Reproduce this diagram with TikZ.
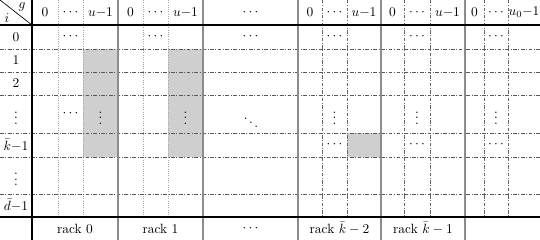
\documentclass[tikz,border=0pt]{standalone}
\begin{document}
\begin{tikzpicture}[x=0.746pt,y=-0.746pt,
  cellshade/.style={fill=black!19,draw=none},
  subdot/.style={gray!70,line width=0.45pt,dash pattern=on 0.6pt off 1.1pt},
  subdash/.style={black!60,line width=0.45pt,dash pattern=on 2.6pt off 1.2pt on 0.6pt off 1.2pt},
  rowline/.style={black!65,line width=0.5pt,dash pattern=on 2.8pt off 1.2pt on 0.6pt off 1.2pt},
  rackline/.style={black!45,line width=0.85pt},
  heavy/.style={black,line width=1.1pt},
  lbl/.style={inner sep=0pt,anchor=center}]
\useasboundingbox (0,0) rectangle (540,240);
% shading
\fill[cellshade] (83,49) rectangle (118,157);
\fill[cellshade] (168,49) rectangle (203,157);
\fill[cellshade] (347,133) rectangle (381,157);
% sub columns
\foreach \x in {58,83,143,168} \draw[subdot] (\x,0) -- (\x,217);
\foreach \x in {322,347,404,430,484,508} \draw[subdash] (\x,0) -- (\x,217);
% row lines
\foreach \y in {49,72,95,133,157,194} \draw[rowline] (0,\y) -- (540,\y);
% rack lines
\foreach \x in {118,203,298,381,465} \draw[rackline] (\x,0) -- (\x,240);
% heavy lines
\draw[heavy] (0,25) -- (540,25);
\draw[heavy] (0,217) -- (540,217);
\draw[heavy] (32,0) -- (32,240);
\draw[line width=0.5pt] (0,0) -- (32,25);
% corner
\node[lbl] (cg) at (22,7) {$g$};
\node[lbl] (ci) at (7,18) {$i$};
% header
\node[lbl] (h0a) at (45,12.5) {$0$};
\node[lbl] (h0b) at (70.5,12.5) {$\cdots$};
\node[lbl] (h0c) at (100.5,12.5) {$u{-}1$};
\node[lbl] (h1a) at (130.5,12.5) {$0$};
\node[lbl] (h1b) at (155.5,12.5) {$\cdots$};
\node[lbl] (h1c) at (185.5,12.5) {$u{-}1$};
\node[lbl] (hm) at (250.5,12.5) {$\cdots$};
\node[lbl] (h2a) at (310,12.5) {$0$};
\node[lbl] (h2b) at (334.5,12.5) {$\cdots$};
\node[lbl] (h2c) at (364,12.5) {$u{-}1$};
\node[lbl] (h3a) at (392.5,12.5) {$0$};
\node[lbl] (h3b) at (417,12.5) {$\cdots$};
\node[lbl] (h3c) at (447.5,12.5) {$u{-}1$};
\node[lbl] (h4a) at (474.5,12.5) {$0$};
\node[lbl] (h4b) at (496,12.5) {$\cdots$};
\node[lbl] (h4c) at (524,12.5) {$u_0{-}1$};
% row labels
\node[lbl] (r0) at (16,37) {$0$};
\node[lbl] (r1) at (16,60.5) {$1$};
\node[lbl] (r2) at (16,83.5) {$2$};
\node[lbl] (r3) at (16,114) {$\vdots$};
\node[lbl] (r4) at (16,145) {$\bar{k}{-}1$};
\node[lbl] (r5) at (16,175.5) {$\vdots$};
\node[lbl] (r6) at (16,205.5) {$\bar{d}{-}1$};
% row 0 dots
\node[lbl] (a1) at (70.5,37) {$\cdots$};
\node[lbl] (a2) at (155.5,37) {$\cdots$};
\node[lbl] (a3) at (250.5,37) {$\cdots$};
\node[lbl] (a4) at (334.5,37) {$\cdots$};
\node[lbl] (a5) at (417,37) {$\cdots$};
\node[lbl] (a6) at (496,37) {$\cdots$};
% vdots row
\node[lbl] (b1) at (70.5,114) {$\cdots$};
\node[lbl] (b2) at (100.5,114) {$\vdots$};
\node[lbl] (b3) at (185.5,114) {$\vdots$};
\node[lbl] (b4) at (251,119) {$\ddots$};
\node[lbl] (b5) at (334.5,114) {$\vdots$};
\node[lbl] (b6) at (417,114) {$\vdots$};
\node[lbl] (b7) at (496,114) {$\vdots$};
% row k-1
\node[lbl] (c1) at (334.5,145) {$\cdots$};
\node[lbl] (c2) at (417,145) {$\cdots$};
\node[lbl] (c3) at (496,145) {$\cdots$};
% bottom
\node[lbl] (k0) at (75,228.5) {rack $0$};
\node[lbl] (k1) at (160.5,228.5) {rack $1$};
\node[lbl] (km) at (250.5,228.5) {$\cdots$};
\node[lbl] (k2) at (339.5,228.5) {rack $\bar{k}-2$};
\node[lbl] (k3) at (423,228.5) {rack $\bar{k}-1$};
\end{tikzpicture}
\end{document}
